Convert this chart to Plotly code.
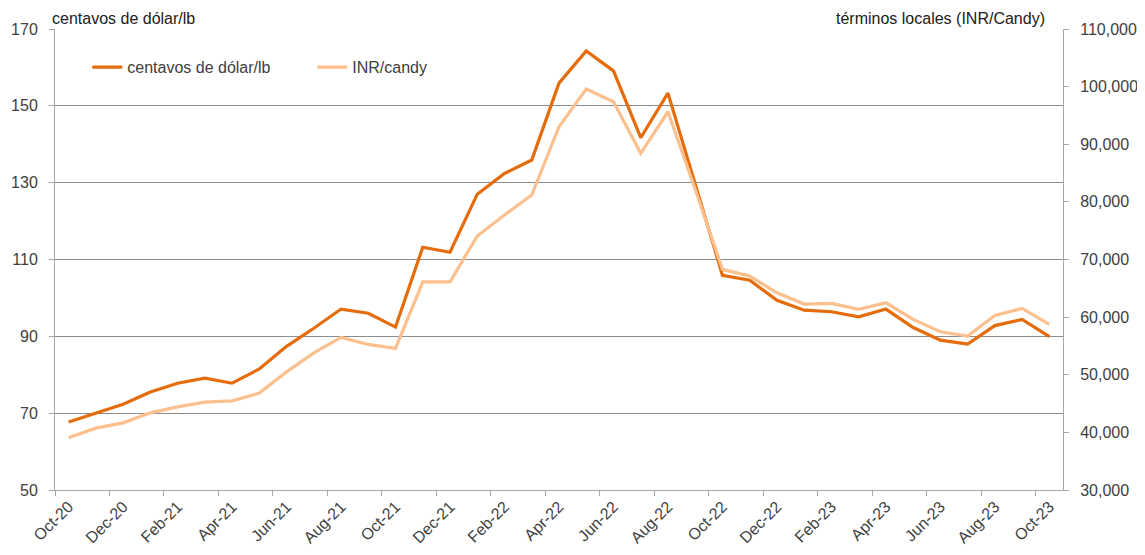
import plotly.graph_objects as go

months = ["Oct-20", "Nov-20", "Dec-20", "Jan-21", "Feb-21", "Mar-21", "Apr-21", "May-21",
          "Jun-21", "Jul-21", "Aug-21", "Sep-21", "Oct-21", "Nov-21", "Dec-21", "Jan-22",
          "Feb-22", "Mar-22", "Apr-22", "May-22", "Jun-22", "Jul-22", "Aug-22", "Sep-22",
          "Oct-22", "Nov-22", "Dec-22", "Jan-23", "Feb-23", "Mar-23", "Apr-23", "May-23",
          "Jun-23", "Jul-23", "Aug-23", "Sep-23", "Oct-23"]

cents_lb = [67.7, 70.1, 72.3, 75.5, 77.8, 79.1, 77.8, 81.5, 87.4, 92.1, 97.1, 96.0, 92.4,
            113.2, 111.9, 127.0, 132.4, 135.9, 155.9, 164.3, 159.1, 141.7, 153.3, 129.6,
            105.9, 104.6, 99.4, 96.8, 96.4, 95.1, 97.1, 92.3, 89.0, 88.0, 92.8, 94.4, 89.9]

inr_candy = [39050, 40730, 41650, 43390, 44430, 45250, 45470, 46810, 50500, 53800, 56480,
             55260, 54570, 66130, 66130, 74070, 77710, 81180, 93040, 99580, 97380, 88420,
             95640, 82200, 68280, 67120, 64220, 62260, 62380, 61340, 62490, 59600, 57450,
             56700, 60300, 61510, 58740]

left_title = "centavos de dólar/lb"
right_title = "términos locales (INR/Candy)"
series_names = ["centavos de dólar/lb", "INR/candy"]

DARK = "#E46C0A"
LIGHT = "#FCC08E"
GRID = "#8C8C8C"
AXIS = "#A6A6A6"
TXT = "#404040"
FONT = "Liberation Sans, Arial, sans-serif"

xs = list(range(len(months)))
label_idx = xs[::2]

fig = go.Figure()
fig.add_trace(go.Scatter(x=xs, y=cents_lb, name=series_names[0], mode="lines",
                         line=dict(color=DARK, width=3.2)))
fig.add_trace(go.Scatter(x=xs, y=inr_candy, name=series_names[1], mode="lines",
                         line=dict(color=LIGHT, width=3.2), yaxis="y2"))

fig.update_layout(
    width=1137, height=547,
    margin=dict(l=47, r=82, t=21, b=65, autoexpand=False),
    paper_bgcolor="white", plot_bgcolor="white",
    font=dict(family=FONT, size=16, color=TXT),
    showlegend=True,
    legend=dict(orientation="h", x=0.032, y=0.954, xanchor="left", yanchor="top",
                bgcolor="rgba(0,0,0,0)", font=dict(size=16, color=TXT),
                itemwidth=30, entrywidth=180, entrywidthmode="pixels", tracegroupgap=0),
    xaxis=dict(range=[-0.5, len(months) - 0.5], tickmode="array", automargin=False,
               tickvals=label_idx, ticktext=[months[i] for i in label_idx],
               tickangle=-45, ticks="", showgrid=False, zeroline=False,
               showline=True, linecolor=AXIS, linewidth=1,
               tickfont=dict(size=16, color=TXT),
               minor=dict(tickmode="linear", tick0=-0.5, dtick=2, ticks="outside",
                          ticklen=5, tickcolor=AXIS, showgrid=False)),
    yaxis=dict(range=[50, 170], dtick=20, tick0=50, showgrid=True, gridcolor=GRID,
               gridwidth=1, zeroline=False, showline=True, linecolor=AXIS,
               ticks="outside", ticklen=5, tickcolor=AXIS, automargin=False,
               ticklabelstandoff=8,
               tickfont=dict(size=16, color=TXT)),
    yaxis2=dict(range=[30000, 110000], dtick=10000, tick0=30000, overlaying="y",
                side="right", showgrid=False, zeroline=False, showline=True,
                linecolor=AXIS, ticks="outside", ticklen=5, tickcolor=AXIS,
                automargin=False, ticklabelstandoff=8,
                tickformat=",d", tickfont=dict(size=16, color=TXT)),
    annotations=[
        dict(text=left_title, xref="paper", yref="paper", x=-0.005, y=1.0,
             xanchor="left", yanchor="bottom", showarrow=False,
             font=dict(size=16, color="#202020")),
        dict(text=right_title, xref="paper", yref="paper", x=0.984, y=1.0,
             xanchor="right", yanchor="bottom", showarrow=False,
             font=dict(size=16, color="#202020")),
    ],
)

fig.write_html("out.html")
